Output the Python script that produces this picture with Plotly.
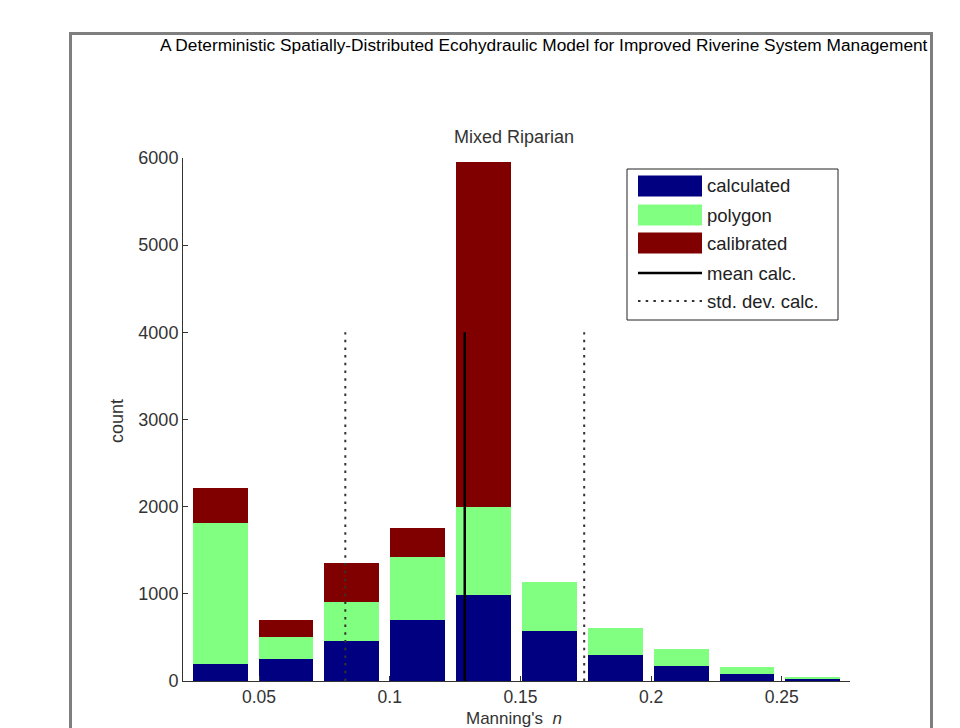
import plotly.graph_objects as go

# Histogram bins of Manning's n (bin centres) and stacked counts per source
bin_centers = [0.0351, 0.0603, 0.0855, 0.1107, 0.1359, 0.1611, 0.1863, 0.2115, 0.2367, 0.2619]
calculated = [200, 250, 460, 700, 990, 570, 300, 175, 75, 30]
polygon = [1610, 260, 450, 720, 1010, 570, 310, 195, 85, 8]
calibrated = [400, 190, 440, 340, 3950, 0, 0, 0, 0, 0]

# Statistics of the calculated roughness
mean_calc = 0.1287
std_calc = 0.0457
stat_line_height = 4000

x_ticks = [0.05, 0.1, 0.15, 0.2, 0.25]
x_tick_labels = ["0.05", "0.1", "0.15", "0.2", "0.25"]
y_ticks = [0, 1000, 2000, 3000, 4000, 5000, 6000]

series_names = ["calculated", "polygon", "calibrated"]
series_colors = ["#000080", "#80FF80", "#800000"]

FONT = "Liberation Sans, Arial, sans-serif"
W, H = 960, 728
L, R, T, B = 183, 850, 158, 681  # plot area in pixels


def px(xp):
    return (xp - L) / (R - L)


def py(yp):
    return (B - yp) / (B - T)


fig = go.Figure()

for name, vals, col in zip(series_names, [calculated, polygon, calibrated], series_colors):
    fig.add_trace(go.Bar(
        x=bin_centers, y=vals, name=name, width=0.021,
        marker=dict(color=col, line=dict(width=0)),
        showlegend=False,
    ))

# mean and +/- one standard deviation of the calculated values
fig.add_trace(go.Scatter(
    x=[mean_calc, mean_calc], y=[0, stat_line_height], mode="lines",
    line=dict(color="black", width=2.5), showlegend=False,
))
for xv in (mean_calc - std_calc, mean_calc + std_calc):
    fig.add_trace(go.Scatter(
        x=[xv, xv], y=[0, stat_line_height], mode="lines",
        line=dict(color="#333333", width=2, dash="2.5px,5.2px"), showlegend=False,
    ))

shapes = []
annotations = []

# page frame
shapes.append(dict(type="path", xref="paper", yref="paper",
                   path=f"M {px(70.5)} {py(740)} L {px(70.5)} {py(33.5)} L {px(931.5)} {py(33.5)} L {px(931.5)} {py(740)}",
                   line=dict(color="#7f7f7f", width=3)))

# legend box
shapes.append(dict(type="rect", xref="paper", yref="paper",
                   x0=px(627), x1=px(838), y0=py(320), y1=py(169),
                   line=dict(color="#222222", width=1), fillcolor="white"))
rows_y = [186, 215, 243, 273, 301]
for i, (name, col) in enumerate(zip(series_names, series_colors)):
    yc = rows_y[i]
    shapes.append(dict(type="rect", xref="paper", yref="paper",
                       x0=px(638), x1=px(702), y0=py(yc + 10.5), y1=py(yc - 10.5),
                       line=dict(width=0), fillcolor=col))
shapes.append(dict(type="line", xref="paper", yref="paper",
                   x0=px(638), x1=px(702), y0=py(rows_y[3]), y1=py(rows_y[3]),
                   line=dict(color="black", width=2.5)))
shapes.append(dict(type="line", xref="paper", yref="paper",
                   x0=px(638), x1=px(702), y0=py(rows_y[4]), y1=py(rows_y[4]),
                   line=dict(color="#333333", width=2, dash="2.5px,5.2px")))
legend_labels = series_names + ["mean calc.", "std. dev. calc."]
for lab, yc in zip(legend_labels, rows_y):
    annotations.append(dict(text=lab, xref="paper", yref="paper", x=px(705), y=py(yc),
                            xanchor="left", yanchor="middle", showarrow=False,
                            font=dict(family=FONT, size=18.5, color="#222222")))

# page header
annotations.append(dict(text="A Deterministic Spatially-Distributed Ecohydraulic Model for Improved Riverine System Management",
                        xref="paper", yref="paper", x=px(930), y=py(45),
                        xanchor="right", yanchor="middle", showarrow=False,
                        font=dict(family=FONT, size=17.3, color="black")))
# chart title
annotations.append(dict(text="Mixed Riparian", xref="paper", yref="paper", x=px(514), y=py(137),
                        xanchor="center", yanchor="middle", showarrow=False,
                        font=dict(family=FONT, size=18, color="#333333")))
# axis titles
annotations.append(dict(text="count", xref="paper", yref="paper", x=px(117), y=py(421),
                        xanchor="center", yanchor="middle", textangle=-90, showarrow=False,
                        font=dict(family=FONT, size=18, color="#333333")))
annotations.append(dict(text="Manning's  <i>n</i>", xref="paper", yref="paper", x=px(514), y=py(718.5),
                        xanchor="center", yanchor="middle", showarrow=False,
                        font=dict(family=FONT, size=17, color="#333333")))

fig.update_layout(
    width=W, height=H,
    margin=dict(l=L, r=W - R, t=T, b=H - B, pad=0),
    paper_bgcolor="white", plot_bgcolor="white",
    barmode="stack", bargap=0,
    shapes=shapes, annotations=annotations,
    font=dict(family=FONT, size=18, color="#333333"),
    xaxis=dict(range=[0.0209, 0.2761], tickvals=x_ticks, ticktext=x_tick_labels,
               ticks="inside", ticklen=5, tickcolor="#333333", showgrid=False, zeroline=False,
               showline=True, linecolor="#333333", linewidth=1, mirror=False,
               tickfont=dict(family=FONT, size=17.5, color="#333333")),
    yaxis=dict(range=[0, 6000], tickvals=y_ticks, ticks="inside", ticklen=5, tickcolor="#333333",
               showgrid=False, zeroline=False, showline=True, linecolor="#333333", linewidth=1,
               tickfont=dict(family=FONT, size=18, color="#333333")),
)

fig.write_html("out.html")
